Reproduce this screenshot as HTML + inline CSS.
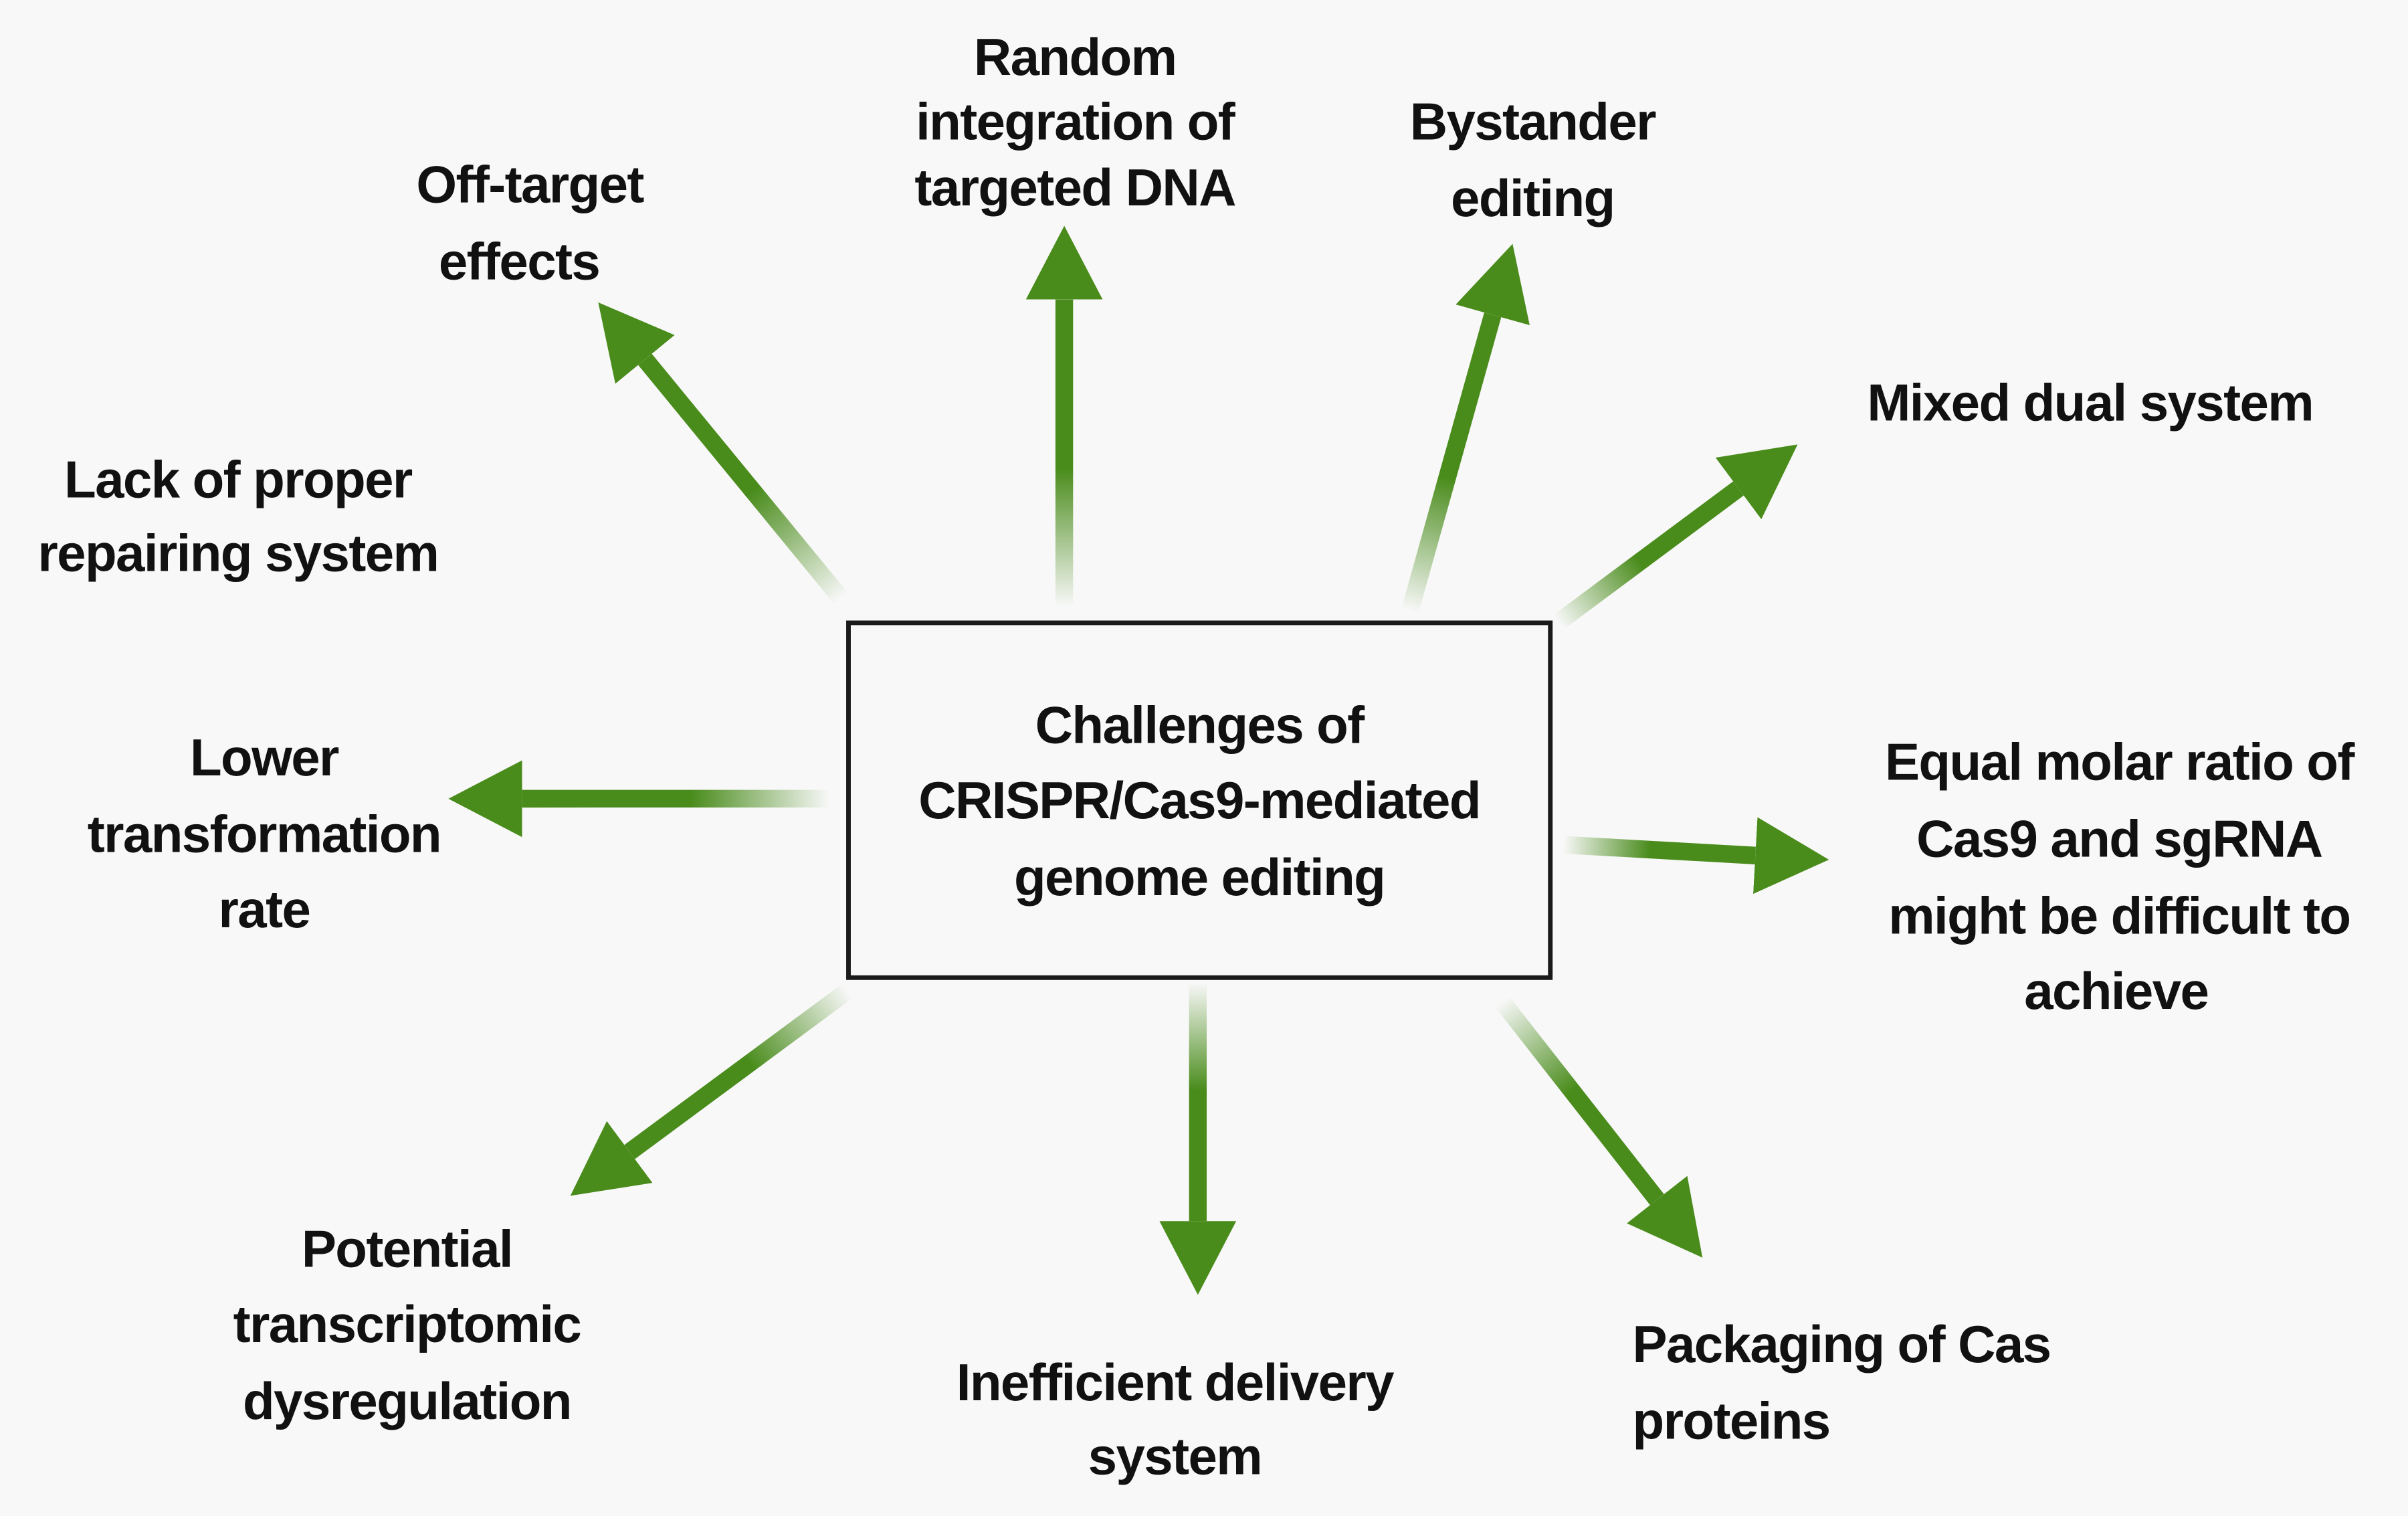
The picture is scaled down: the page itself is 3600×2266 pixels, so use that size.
<!DOCTYPE html>
<html><head><meta charset="utf-8"><style>
html,body{margin:0;padding:0;background:#f8f8f8;}
svg{display:block;}
text{font-family:"Liberation Sans",Arial,sans-serif;font-weight:bold;font-size:34px;fill:#111;letter-spacing:-0.7px;dominant-baseline:central;}
</style></head><body>
<svg width="3600" height="2266" viewBox="0 0 1568 987" preserveAspectRatio="none" xmlns="http://www.w3.org/2000/svg">
<defs>
<marker id="h" markerUnits="userSpaceOnUse" markerWidth="60" markerHeight="60" refX="0" refY="25" orient="auto" viewBox="0 0 60 60">
<path d="M0,0 L48,25 L0,50 z" fill="#4a8c1c"/>
</marker>
<linearGradient id="g1" gradientUnits="userSpaceOnUse" x1="548" y1="390" x2="420" y2="234"><stop offset="0" stop-color="#4a8c1c" stop-opacity="0"/><stop offset="0.45" stop-color="#4a8c1c"/></linearGradient>
<linearGradient id="g2" gradientUnits="userSpaceOnUse" x1="693" y1="395" x2="693" y2="195"><stop offset="0" stop-color="#4a8c1c" stop-opacity="0"/><stop offset="0.45" stop-color="#4a8c1c"/></linearGradient>
<linearGradient id="g3" gradientUnits="userSpaceOnUse" x1="918" y1="398" x2="972" y2="205"><stop offset="0" stop-color="#4a8c1c" stop-opacity="0"/><stop offset="0.45" stop-color="#4a8c1c"/></linearGradient>
<linearGradient id="g4" gradientUnits="userSpaceOnUse" x1="1015" y1="405" x2="1132" y2="318"><stop offset="0" stop-color="#4a8c1c" stop-opacity="0"/><stop offset="0.45" stop-color="#4a8c1c"/></linearGradient>
<linearGradient id="g5" gradientUnits="userSpaceOnUse" x1="540" y1="520" x2="340" y2="520"><stop offset="0" stop-color="#4a8c1c" stop-opacity="0"/><stop offset="0.45" stop-color="#4a8c1c"/></linearGradient>
<linearGradient id="g6" gradientUnits="userSpaceOnUse" x1="1018" y1="550" x2="1143" y2="557"><stop offset="0" stop-color="#4a8c1c" stop-opacity="0"/><stop offset="0.45" stop-color="#4a8c1c"/></linearGradient>
<linearGradient id="g7" gradientUnits="userSpaceOnUse" x1="978" y1="652" x2="1079" y2="781"><stop offset="0" stop-color="#4a8c1c" stop-opacity="0"/><stop offset="0.45" stop-color="#4a8c1c"/></linearGradient>
<linearGradient id="g8" gradientUnits="userSpaceOnUse" x1="780" y1="640" x2="780" y2="795"><stop offset="0" stop-color="#4a8c1c" stop-opacity="0"/><stop offset="0.45" stop-color="#4a8c1c"/></linearGradient>
<linearGradient id="g9" gradientUnits="userSpaceOnUse" x1="552" y1="645" x2="410" y2="750"><stop offset="0" stop-color="#4a8c1c" stop-opacity="0"/><stop offset="0.45" stop-color="#4a8c1c"/></linearGradient>
</defs>
<rect width="1568" height="987" fill="#f8f8f8"/>
<g stroke-width="11.5" fill="none" marker-end="url(#h)">
<line x1="548" y1="390" x2="420" y2="234" stroke="url(#g1)"/>
<line x1="693" y1="395" x2="693.01" y2="195" stroke="url(#g2)"/>
<line x1="918" y1="398" x2="972" y2="205" stroke="url(#g3)"/>
<line x1="1015" y1="405" x2="1132" y2="318" stroke="url(#g4)"/>
<line x1="540" y1="520" x2="340" y2="520.01" stroke="url(#g5)"/>
<line x1="1018" y1="550" x2="1143" y2="557" stroke="url(#g6)"/>
<line x1="978" y1="652" x2="1079" y2="781" stroke="url(#g7)"/>
<line x1="780" y1="640" x2="780.01" y2="795" stroke="url(#g8)"/>
<line x1="552" y1="645" x2="410" y2="750" stroke="url(#g9)"/>
</g>
<rect x="552.5" y="405.5" width="457" height="231" fill="#f8f8f8" stroke="#1a1a1a" stroke-width="3"/>
<g text-anchor="middle">
<text x="781" y="472">Challenges of</text>
<text x="781" y="521">CRISPR/Cas9-mediated</text>
<text x="781" y="571">genome editing</text>
<text x="345" y="120">Off-target</text>
<text x="338" y="170">effects</text>
<text x="700" y="37">Random</text>
<text x="700" y="79">integration of</text>
<text x="700" y="122">targeted DNA</text>
<text x="998" y="79">Bystander</text>
<text x="998" y="129">editing</text>
<text x="1361" y="262">Mixed dual system</text>
<text x="155" y="312">Lack of proper</text>
<text x="155" y="360">repairing system</text>
<text x="172" y="493">Lower</text>
<text x="172" y="543">transformation</text>
<text x="172" y="592">rate</text>
<text x="1380" y="496">Equal molar ratio of</text>
<text x="1380" y="546">Cas9 and sgRNA</text>
<text x="1380" y="596">might be difficult to</text>
<text x="1378" y="645">achieve</text>
<text x="265" y="813">Potential</text>
<text x="265" y="862">transcriptomic</text>
<text x="265" y="912">dysregulation</text>
<text x="765" y="900">Inefficient delivery</text>
<text x="765" y="948">system</text>
</g>
<text x="1063" y="875">Packaging of Cas</text>
<text x="1063" y="925">proteins</text>
</svg>
</body></html>
